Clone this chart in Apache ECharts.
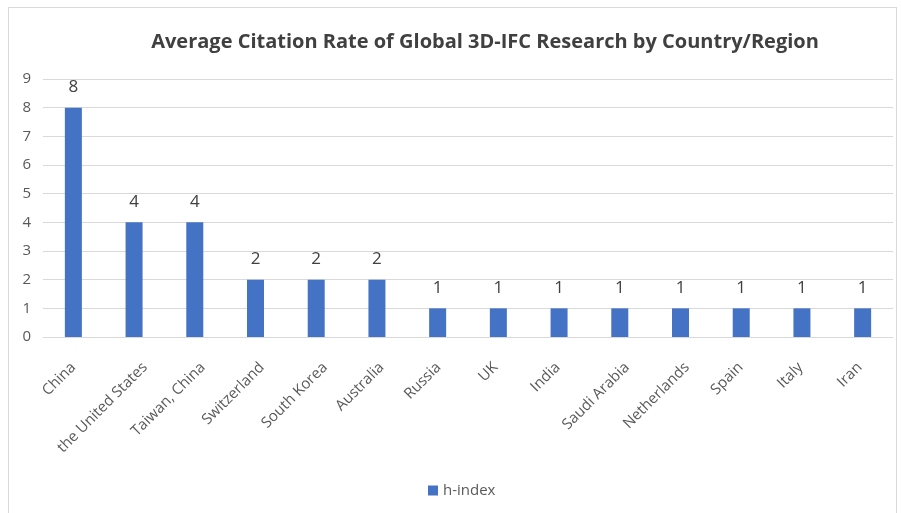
<!DOCTYPE html>
<html>
<head>
<meta charset="utf-8">
<script src="https://cdn.jsdelivr.net/npm/echarts@6/dist/echarts.min.js"></script>
<style>
html,body{margin:0;padding:0;background:#fff;}
#frame{position:absolute;left:8px;top:7px;width:889px;height:520px;border:1px solid #d9d9d9;box-sizing:border-box;}
#chart{position:absolute;left:0;top:0;width:901px;height:513px;}
</style>
</head>
<body>
<div id="frame"></div>
<div id="chart"></div>
<script>
const categories = ["China","the United States","Taiwan, China","Switzerland","South Korea","Australia","Russia","UK","India","Saudi Arabia","Netherlands","Spain","Italy","Iran"];
const hIndex = [8,4,4,2,2,2,1,1,1,1,1,1,1,1];
const seriesName = "h-index";
const titleText = "Average Citation Rate of Global 3D-IFC Research by Country/Region";
// horizontal nudge (px) of each rotated category label, as placed in the reference
const labelShift = [0,11,8,6.5,8.8,4.8,1,-3,-1.3,7.3,6.5,-0.4,-1.3,-3];

const C = 17;
const xData = categories.map((c, i) => {
  const d = labelShift[i] * Math.SQRT2;
  const v = (C + d) / 2;   // shift across the text direction (via leading empty line)
  const s = (C - d) / 2;   // shift back along the text direction (via right padding)
  return {value: c, textStyle: {lineHeight: 2 * v, padding: [0, s, 0, 0]}};
});

const chart = echarts.init(document.getElementById('chart'), null, {renderer:'canvas'});
chart.setOption({
  backgroundColor: 'transparent',
  animation: false,
  title: {
    text: titleText,
    left: 480, top: 27, textAlign: 'center',
    textStyle: {fontFamily: 'Open Sans', fontWeight: 'bold', fontSize: 20, color: '#404040'}
  },
  legend: {
    data: [seriesName],
    bottom: 10, left: 423,
    itemWidth: 10, itemHeight: 10, itemGap: 6,
    icon: 'rect',
    textStyle: {fontFamily: 'Open Sans', fontSize: 15, color: '#595959'}
  },
  grid: {left: 43, right: 8, top: 79, bottom: 176, containLabel: false},
  xAxis: {
    type: 'category',
    data: xData,
    axisLine: {lineStyle: {color: '#d9d9d9'}},
    axisTick: {show: false},
    axisLabel: {rotate: 45, interval: 0, margin: 16, fontFamily: 'Open Sans', fontSize: 15, color: '#595959',
      formatter: (val) => '\n' + val}
  },
  yAxis: {
    type: 'value', min: 0, max: 9, interval: 1,
    axisLine: {show: false}, axisTick: {show: false},
    splitLine: {lineStyle: {color: '#d9d9d9'}},
    axisLabel: {margin: 12, fontFamily: 'Open Sans', fontSize: 15, color: '#595959'}
  },
  series: [{
    name: seriesName,
    type: 'bar',
    data: hIndex,
    barWidth: 17,
    itemStyle: {color: '#4472C4'},
    label: {show: true, position: 'top', distance: 12, fontFamily: 'Open Sans', fontSize: 17, color: '#404040'}
  }]
});
</script>
</body>
</html>
